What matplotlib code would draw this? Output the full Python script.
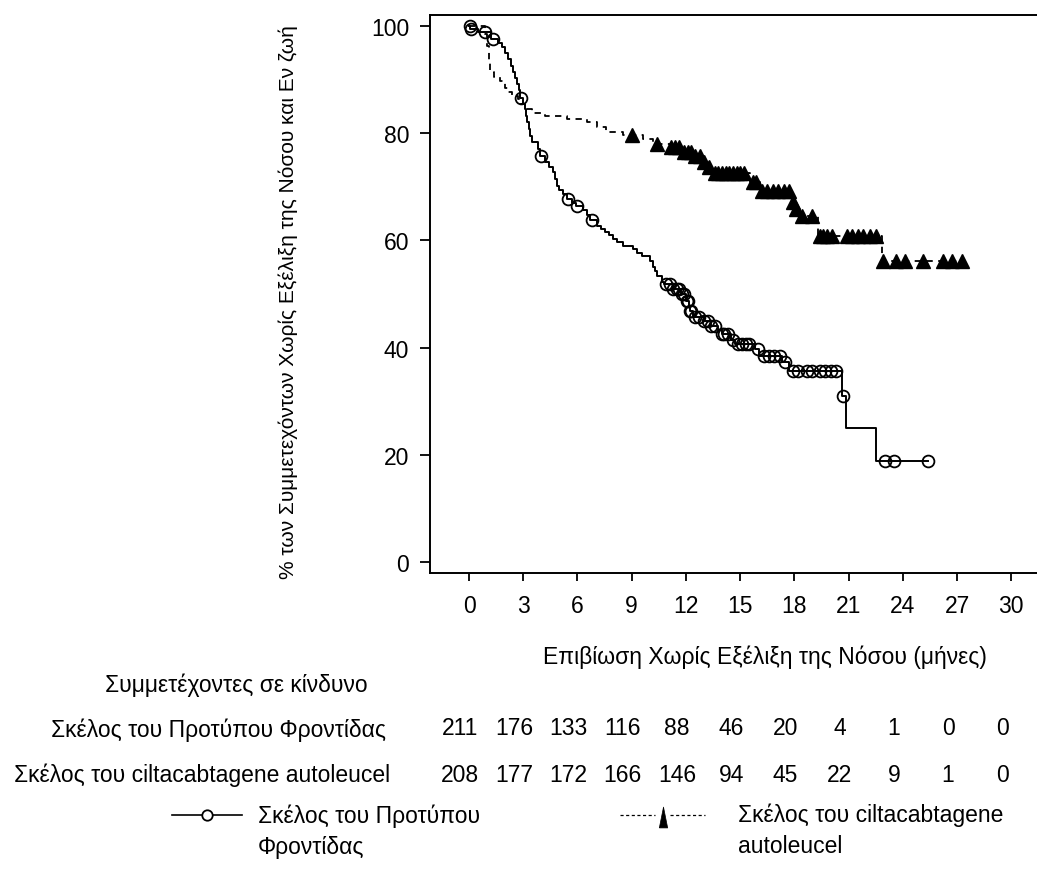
import numpy as np
import matplotlib.pyplot as plt
from matplotlib.lines import Line2D
from matplotlib.transforms import blended_transform_factory

plt.rcParams['font.family'] = ['Liberation Sans', 'DejaVu Sans']

# standard of care arm: step times (months) and % progression-free and alive
soc_t = [0, 0.08, 0.5, 1.2, 1.6, 1.83, 2.0, 2.16, 2.3, 2.43, 2.55, 2.66, 2.75, 2.82,
         3.0, 3.1, 3.15, 3.21, 3.3, 3.38, 3.5, 3.82, 3.9, 4.21, 4.45, 4.65, 4.75, 4.87,
         5.0, 5.2, 5.4, 5.7, 5.9, 6.3, 6.5, 6.7, 7.08, 7.3, 7.53, 7.75, 7.97, 8.2, 8.52,
         9.08, 9.3, 9.57, 10.0, 10.2, 10.3, 10.4, 10.7, 10.8, 11.3, 11.7, 12.0, 12.15,
         12.2, 12.4, 13.0, 13.4, 13.8, 14.0, 14.5, 14.7, 15.8, 16.05, 17.3, 17.7,
         20.65, 20.85, 22.5]
soc_s = [100, 99.5, 98.9, 97.6, 96.9, 96.1, 94.9, 93.8, 92.6, 91.4, 90.3, 89.2, 88.0, 86.6,
         85.5, 84.5, 83.3, 82.1, 80.8, 79.5, 78.3, 77.1, 75.7, 74.6, 73.7, 72.8, 71.4, 70.1,
         69.4, 68.7, 67.7, 67.0, 66.4, 65.6, 64.8, 63.8, 62.7, 62.2, 61.6, 61.0, 60.3, 59.7, 59.0,
         58.4, 57.7, 57.1, 56.2, 55.0, 54.3, 53.4, 52.2, 51.9, 50.9, 50.0, 48.7, 47.8,
         46.8, 45.7, 45.0, 44.0, 43.2, 42.5, 41.5, 40.7, 39.7, 38.4, 37.3, 35.6,
         31.0, 25.0, 18.8]
soc_cens = [0.05, 0.12, 0.9, 1.3, 2.9, 4.0, 5.5, 6.0, 6.8, 10.9, 11.1, 11.3, 11.5, 11.6,
            11.8, 11.9, 12.05, 12.1, 12.2, 12.3, 12.5, 12.7, 13.0, 13.2, 13.4, 13.6, 14.0,
            14.1, 14.3, 14.6, 14.9, 15.1, 15.3, 15.5, 16.0, 16.3, 16.6, 16.9, 17.2, 17.5,
            17.9, 18.2, 18.7, 19.0, 19.4, 19.7, 20.0, 20.3, 20.7, 23.0, 23.5, 25.4]

# ciltacabtagene autoleucel arm
cil_t = [0, 0.9, 1.0, 1.1, 1.16, 1.4, 1.72, 2.0, 2.16, 2.4, 2.71, 2.9, 3.1, 3.5, 4.2,
         5.4, 6.5, 7.1, 7.6, 8.5, 9.6, 10.2, 11.1, 11.8, 12.4, 12.9, 13.3, 13.5, 15.55,
         16.1, 17.85, 18.0, 18.2, 19.3, 22.85]
cil_s = [100, 98.5, 96.3, 93.5, 91.4, 90.5, 89.7, 88.5, 87.7, 87.0, 86.4, 85.5, 84.5, 83.8, 83.2,
         82.6, 82.1, 81.2, 80.2, 79.7, 78.9, 78.0, 77.4, 76.5, 75.7, 74.6, 73.7, 72.6, 70.9,
         69.2, 67.2, 65.9, 64.6, 60.8, 56.2]
cil_cens = [9.0, 10.4, 11.2, 11.4, 11.6, 11.9, 12.1, 12.3, 12.5, 12.8, 13.0, 13.3, 13.6,
            13.8, 14.0, 14.2, 14.4, 14.6, 14.8, 15.0, 15.2, 15.7, 15.9, 16.2, 16.5, 16.8,
            17.1, 17.4, 17.7, 17.95, 18.1, 18.4, 19.0, 19.4, 19.6, 19.8, 20.1, 20.9, 21.2,
            21.5, 21.8, 22.2, 22.5, 22.9, 23.6, 24.1, 25.1, 26.2, 26.7, 27.3]

months = list(range(0, 31, 3))
risk_soc = [211, 176, 133, 116, 88, 46, 20, 4, 1, 0, 0]
risk_cil = [208, 177, 172, 166, 146, 94, 45, 22, 9, 1, 0]

soc_name = "Σκέλος του Προτύπου Φροντίδας"
cil_name = "Σκέλος του ciltacabtagene autoleucel"

FS = 16.5


def step_at(times, surv, x):
    idx = np.searchsorted(times, x, side='right') - 1
    return np.asarray(surv)[idx]


W, H = 1037, 879
fig = plt.figure(figsize=(W / 100, H / 100), dpi=100)
ax = fig.add_axes([430 / W, 1 - 574 / H, 612 / W, (574 - 16) / H])

# solid curve + circles
x = soc_t + [soc_cens[-1]]
y = soc_s + [soc_s[-1]]
ax.plot(x, y, drawstyle='steps-post', color='black', lw=1.4)
ax.plot(soc_cens, step_at(soc_t, soc_s, soc_cens), 'o', ms=8.5, mfc='none',
        mec='black', mew=1.3, ls='none')

# dashed curve + triangles
x = cil_t + [cil_cens[-1]]
y = cil_s + [cil_s[-1]]
ax.plot(x, y, drawstyle='steps-post', color='black', lw=1.3, dashes=(3.5, 3))
ax.plot(cil_cens, step_at(cil_t, cil_s, cil_cens), '^', ms=10, color='black', ls='none')

ax.set_xlim(-2.16, 31.7)
ax.set_ylim(-2.05, 102.05)
ax.set_xticks(months)
ax.set_yticks([0, 20, 40, 60, 80, 100])
ax.tick_params(axis='x', length=6, width=1.3, pad=9, labelsize=FS)
ax.tick_params(axis='y', length=7, width=1.3, pad=8, labelsize=FS)
for sp in ax.spines.values():
    sp.set_linewidth(1.4)
ax.spines['right'].set_visible(False)

fig.text(765 / W, 1 - 657 / H, "Επιβίωση Χωρίς Εξέλιξη της Νόσου (μήνες)",
         ha='center', va='center', fontsize=FS)
fig.text(288 / W, 1 - 302 / H, "% των Συμμετεχόντων Χωρίς Εξέλιξη της Νόσου και Εν ζωή",
         ha='center', va='center', rotation=90, fontsize=15)

# number at risk table
fig.text(105 / W, 1 - 685 / H, "Συμμετέχοντες σε κίνδυνο", ha='left', va='center', fontsize=FS)
fig.text(386 / W, 1 - 730 / H, soc_name, ha='right', va='center', fontsize=FS)
fig.text(390 / W, 1 - 775 / H, cil_name, ha='right', va='center', fontsize=FS)
tr = blended_transform_factory(ax.transData, fig.transFigure)
for m, a, b in zip(months, risk_soc, risk_cil):
    fig.text(m - 0.5, 1 - 729 / H, str(a), ha='center', va='center', fontsize=FS, transform=tr)
    fig.text(m - 0.5, 1 - 776 / H, str(b), ha='center', va='center', fontsize=FS, transform=tr)

# legend drawn by hand
ly = 1 - 816 / H
tall_tri = [(-0.4, -1), (0.4, -1), (0, 1), (-0.4, -1)]
fig.add_artist(Line2D([172 / W, 242 / W], [ly, ly], color='black', lw=1.2))
fig.add_artist(Line2D([207 / W], [ly], marker='o', ms=7.5, mfc='white', mec='black', mew=1.3))
fig.text(258 / W, 1 - 832 / H, "Σκέλος του Προτύπου\nΦροντίδας", ha='left', va='center',
         fontsize=FS, linespacing=1.45)
fig.add_artist(Line2D([620 / W, 655 / W], [ly, ly], color='black', lw=0.9, dashes=(2.5, 2)))
fig.add_artist(Line2D([670 / W, 705 / W], [ly, ly], color='black', lw=0.9, dashes=(2.5, 2)))
fig.add_artist(Line2D([663 / W], [ly - 2 / H], marker=tall_tri, ms=15, mfc='black', mec='black', mew=0.5))
fig.text(738 / W, 1 - 831 / H, "Σκέλος του ciltacabtagene\nautoleucel", ha='left', va='center',
         fontsize=FS, linespacing=1.45)

fig.savefig("out.png", dpi=100)
